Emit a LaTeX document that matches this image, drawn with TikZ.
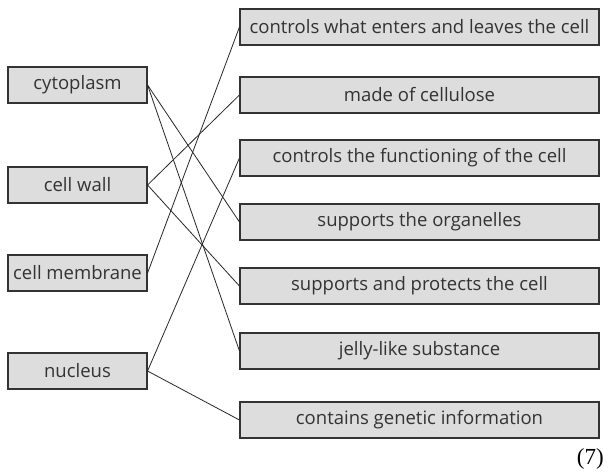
\documentclass[tikz,border=0pt]{standalone}
\usepackage{fontspec}
\setmainfont{Open Sans}
\newfontfamily\markfont{Liberation Serif}
\definecolor{boxgrey}{HTML}{DDDDDD}
\definecolor{inkgrey}{HTML}{333333}
\tikzset{
  partbox/.style={draw=inkgrey, fill=boxgrey, text=inkgrey, line width=1.1pt,
    minimum width=139pt, minimum height=36pt, inner sep=0pt,
    font=\fontsize{18.5}{20}\selectfont},
  rolebox/.style={partbox, minimum width=359pt},
  link/.style={line width=0.8pt, draw=black!85}
}
\begin{document}
\begin{tikzpicture}[x=1pt,y=-1pt]
  \useasboundingbox (0,0) rectangle (610,472);
  %% cell parts
  \node[partbox] (cyto) at (77.5,85) {cytoplasm};
  \node[partbox] (wall) at (77.5,185) {cell wall};
  \node[partbox] (memb) at (77.5,273) {cell membrane};
  \node[partbox] (nucl) at (77.5,371) {nucleus};
  %% functions
  \node[rolebox] (enter) at (419.5,27) {controls what enters and leaves the cell};
  \node[rolebox] (cellu) at (419.5,95) {made of cellulose};
  \node[rolebox] (funct) at (419.5,158) {controls the functioning of the cell};
  \node[rolebox] (organ) at (419.5,222) {supports the organelles};
  \node[rolebox] (prot)  at (419.5,286) {supports and protects the cell};
  \node[rolebox] (jelly) at (419.5,351) {jelly-like substance};
  \node[rolebox] (genes) at (419.5,420) {contains genetic information};
  %% links
  \draw[link] (cyto.east) -- (organ.west);
  \draw[link] (cyto.east) -- (jelly.west);
  \draw[link] (wall.east) -- (cellu.west);
  \draw[link] (wall.east) -- (prot.west);
  \draw[link] (memb.east) -- (enter.west);
  \draw[link] (nucl.east) -- (funct.west);
  \draw[link] (nucl.east) -- (genes.west);
  \node[anchor=east, inner sep=0pt, font=\markfont\fontsize{23}{25}\selectfont] (marks) at (604,459) {(7)};
\end{tikzpicture}
\end{document}
